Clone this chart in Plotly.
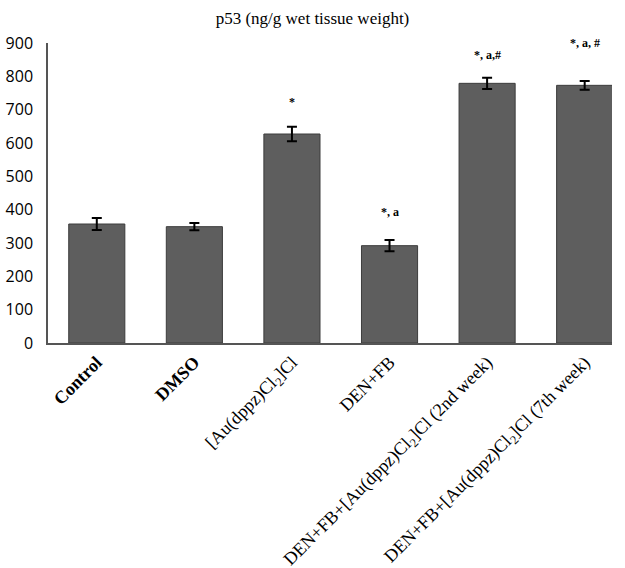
import plotly.graph_objects as go

categories = ["<b>Control</b>", "<b>DMSO</b>", "[Au(dppz)Cl<sub>2</sub>]Cl", "DEN+FB",
              "DEN+FB+[Au(dppz)Cl<sub>2</sub>]Cl (2nd week)",
              "DEN+FB+[Au(dppz)Cl<sub>2</sub>]Cl (7th week)"]
values = [357, 349, 627, 292, 779, 773]
errors = [18, 11, 22, 17, 17, 13]
sig_labels = ["", "", "*", "*, a", "*, a,#", "*, a, #"]
sig_y = [None, None, 723, 393, 865, 900]

x = list(range(len(categories)))

fig = go.Figure()
fig.add_trace(go.Bar(
    x=x, y=values,
    marker=dict(color="#5e5e5e", line=dict(color="#3c3c3c", width=1)),
    error_y=dict(type="data", array=errors, color="black", thickness=2, width=5),
    width=0.575,
))

for xi, lab, yy in zip(x, sig_labels, sig_y):
    if lab:
        fig.add_annotation(x=xi, y=yy, text="<b>" + lab + "</b>", showarrow=False,
                           font=dict(family="Liberation Serif", size=12, color="black"),
                           yanchor="middle")

W, H = 625, 568
fig.update_layout(
    width=W, height=H,
    margin=dict(l=48, r=13, t=43, b=225, autoexpand=False),
    paper_bgcolor="white", plot_bgcolor="white",
    showlegend=False,
    title=dict(text="p53 (ng/g wet tissue weight)", x=0.5, xanchor="center",
               y=1 - 18 / H, yanchor="middle",
               font=dict(family="Liberation Serif", size=17, color="black")),
    xaxis=dict(range=[-0.5, 5.28], tickmode="array", tickvals=x, ticktext=categories,
               tickangle=-45, showline=True, linecolor="#555555", linewidth=1.5,
               ticks="", showgrid=False, zeroline=False, automargin=False,
               tickfont=dict(family="Liberation Serif", size=18, color="black")),
    yaxis=dict(range=[0, 900], tickvals=list(range(0, 901, 100)), showline=True,
               linecolor="#555555", linewidth=1.5, ticks="", showgrid=False,
               zeroline=False, ticklabelstandoff=10, automargin=False,
               tickfont=dict(family="Open Sans", size=16, color="black")),
)

fig.write_html("out.html", config={"displayModeBar": False},
               post_script="document.body.style.margin='0';")
